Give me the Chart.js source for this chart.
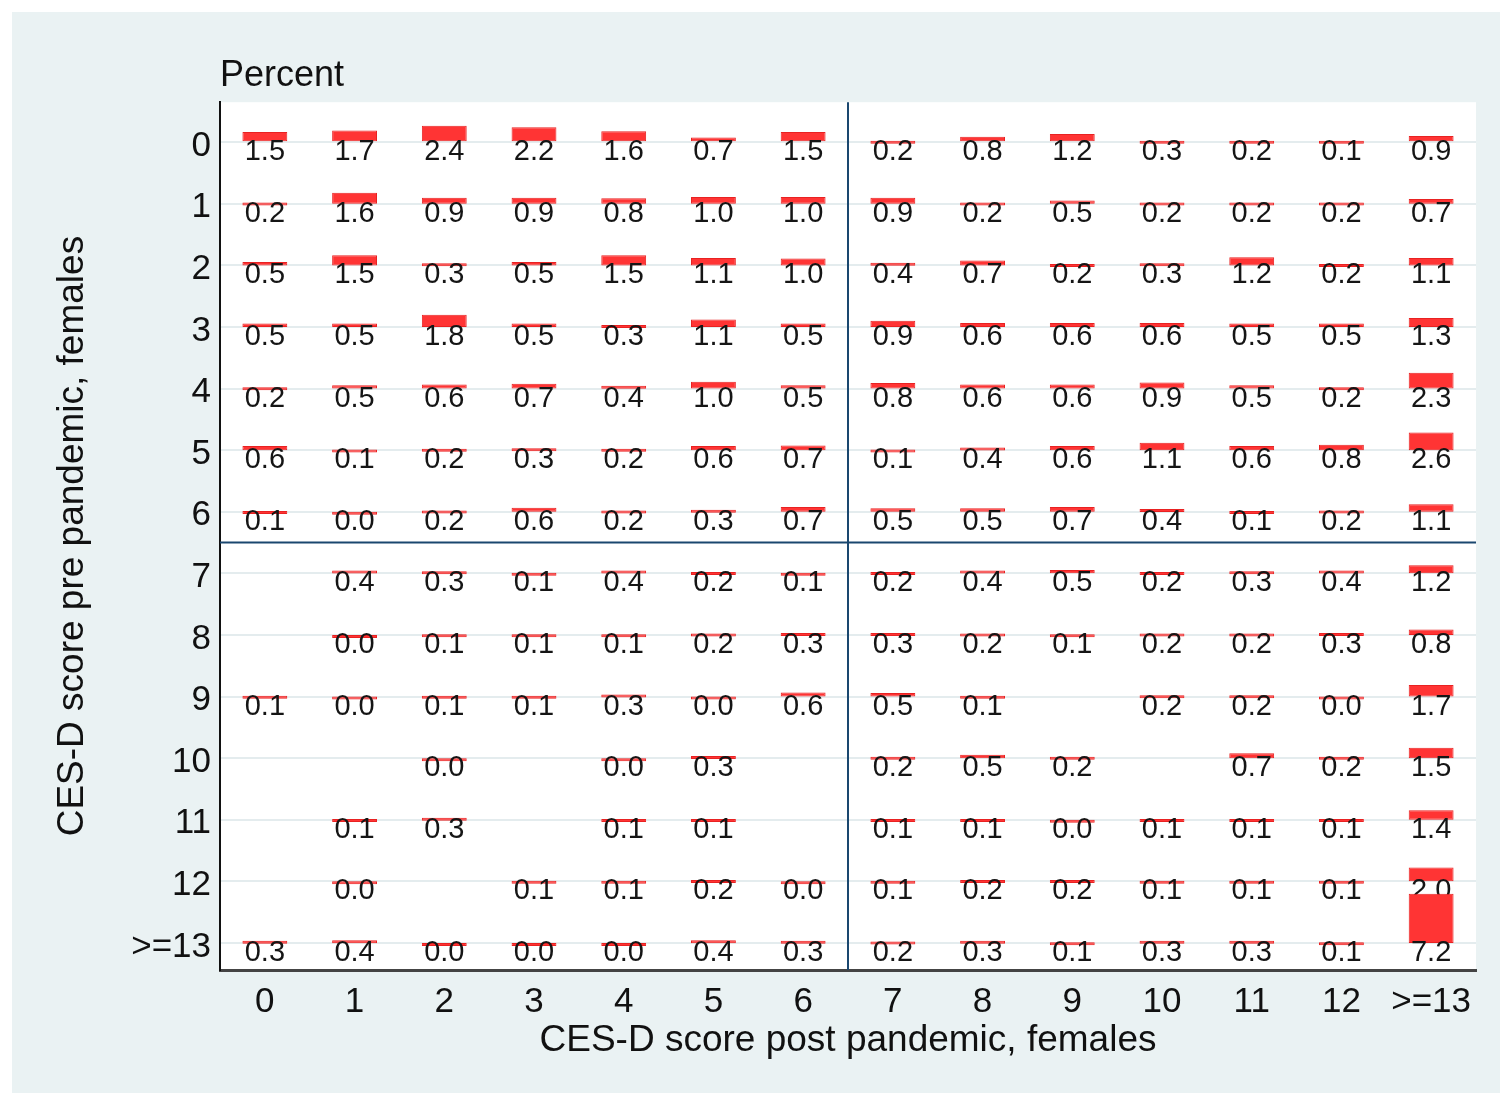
<!DOCTYPE html>
<html>
<head>
<meta charset="utf-8">
<title>CES-D score pre vs post pandemic, females</title>
<script src="https://cdn.jsdelivr.net/npm/chart.js@4.4.1/dist/chart.umd.min.js"></script>
<style>
  html, body { margin: 0; padding: 0; background: #ffffff; overflow: hidden; }
  #wrap { width: 1502px; height: 1093px; position: relative; }
</style>
</head>
<body>
<div id="wrap"><canvas id="tabChart"></canvas></div>
<script>
// columns: CES-D score post pandemic, rows: CES-D score pre pandemic
const postLabels = ["0", "1", "2", "3", "4", "5", "6", "7", "8", "9", "10", "11", "12", ">=13"];
const preLabels = ["0", "1", "2", "3", "4", "5", "6", "7", "8", "9", "10", "11", "12", ">=13"];

// percent of females in each cell (null = empty cell)
const pre0 = [1.5, 1.7, 2.4, 2.2, 1.6, 0.7, 1.5, 0.2, 0.8, 1.2, 0.3, 0.2, 0.1, 0.9];
const pre1 = [0.2, 1.6, 0.9, 0.9, 0.8, 1.0, 1.0, 0.9, 0.2, 0.5, 0.2, 0.2, 0.2, 0.7];
const pre2 = [0.5, 1.5, 0.3, 0.5, 1.5, 1.1, 1.0, 0.4, 0.7, 0.2, 0.3, 1.2, 0.2, 1.1];
const pre3 = [0.5, 0.5, 1.8, 0.5, 0.3, 1.1, 0.5, 0.9, 0.6, 0.6, 0.6, 0.5, 0.5, 1.3];
const pre4 = [0.2, 0.5, 0.6, 0.7, 0.4, 1.0, 0.5, 0.8, 0.6, 0.6, 0.9, 0.5, 0.2, 2.3];
const pre5 = [0.6, 0.1, 0.2, 0.3, 0.2, 0.6, 0.7, 0.1, 0.4, 0.6, 1.1, 0.6, 0.8, 2.6];
const pre6 = [0.1, 0.0, 0.2, 0.6, 0.2, 0.3, 0.7, 0.5, 0.5, 0.7, 0.4, 0.1, 0.2, 1.1];
const pre7 = [null, 0.4, 0.3, 0.1, 0.4, 0.2, 0.1, 0.2, 0.4, 0.5, 0.2, 0.3, 0.4, 1.2];
const pre8 = [null, 0.0, 0.1, 0.1, 0.1, 0.2, 0.3, 0.3, 0.2, 0.1, 0.2, 0.2, 0.3, 0.8];
const pre9 = [0.1, 0.0, 0.1, 0.1, 0.3, 0.0, 0.6, 0.5, 0.1, null, 0.2, 0.2, 0.0, 1.7];
const pre10 = [null, null, 0.0, null, 0.0, 0.3, null, 0.2, 0.5, 0.2, null, 0.7, 0.2, 1.5];
const pre11 = [null, 0.1, 0.3, null, 0.1, 0.1, null, 0.1, 0.1, 0.0, 0.1, 0.1, 0.1, 1.4];
const pre12 = [null, 0.0, null, 0.1, 0.1, 0.2, 0.0, 0.1, 0.2, 0.2, 0.1, 0.1, 0.1, 2.0];
const pre13 = [0.3, 0.4, 0.0, 0.0, 0.0, 0.4, 0.3, 0.2, 0.3, 0.1, 0.3, 0.3, 0.1, 7.2];

const preRows = [pre0, pre1, pre2, pre3, pre4, pre5, pre6, pre7, pre8, pre9, pre10, pre11, pre12, pre13];

const barFill = "#ff3434";
const barLine = "#e82222";
const refLine = "#1a476f";
const maxBar = 0.8; // tallest bar as a share of the row spacing
const maxValue = Math.max(...preRows.flat().filter(v => v !== null));

Chart.defaults.font.family = "'Liberation Sans', Arial, Helvetica, sans-serif";
Chart.defaults.color = "#111111";

// each row is a dataset of floating bars rising from the row line
const datasets = preRows.map((row, r) => ({
  label: "pre " + preLabels[r],
  row: r,
  cells: row,
  data: row.map(v => (v === null ? null : [r, r - (v / maxValue) * maxBar])),
  order: preRows.length - r,
  backgroundColor: barFill,
  borderColor: barLine,
  borderWidth: 1,
  borderSkipped: false,
  grouped: false,
  barPercentage: 0.5,
  categoryPercentage: 1.0,
  minBarLength: 3,
}));

const backdrop = {
  id: "backdrop",
  beforeDraw(chart) {
    const { ctx, chartArea: a } = chart;
    ctx.save();
    ctx.fillStyle = "#eaf2f3";
    ctx.fillRect(12, 12, chart.width - 14, chart.height - 12);
    ctx.fillStyle = "#ffffff";
    ctx.fillRect(a.left, a.top, a.right - a.left, a.bottom - a.top);
    ctx.restore();
  },
  beforeDatasetsDraw(chart) {
    const { ctx, chartArea: a, scales: { x, y } } = chart;
    const xm = x.getPixelForValue(6.5);
    const ym = y.getPixelForValue(6.5);
    ctx.save();
    ctx.strokeStyle = refLine;
    ctx.lineWidth = 2;
    ctx.beginPath();
    ctx.moveTo(xm, a.top);
    ctx.lineTo(xm, a.bottom);
    ctx.moveTo(a.left, ym);
    ctx.lineTo(a.right, ym);
    ctx.stroke();
    ctx.restore();
  },
};

// value under every bar, drawn row by row so later rows overlap earlier labels
const cellLabels = {
  id: "cellLabels",
  afterDatasetDraw(chart, args) {
    const ds = chart.data.datasets[args.index];
    const { ctx, scales: { x, y } } = chart;
    const base = y.getPixelForValue(ds.row);
    ctx.save();
    ctx.font = "29px 'Liberation Sans', Arial, sans-serif";
    ctx.fillStyle = "#151515";
    ctx.textAlign = "center";
    ctx.textBaseline = "middle";
    ds.cells.forEach((v, c) => {
      if (v === null) return;
      ctx.fillText(v.toFixed(1), x.getPixelForValue(c), base + 10);
    });
    ctx.restore();
  },
};

new Chart(document.getElementById("tabChart"), {
  type: "bar",
  data: {
    labels: postLabels,
    datasets: datasets,
  },
  options: {
    responsive: true,
    maintainAspectRatio: false,
    animation: false,
    layout: { padding: { top: 12, right: 26, bottom: 0, left: 0 } },
    scales: {
      x: {
        type: "category",
        offset: true,
        grid: { display: false, drawTicks: false },
        border: { display: true, color: "#444444", width: 3 },
        ticks: { font: { size: 35 }, color: "#111111", padding: 11, autoSkip: false, maxRotation: 0 },
        afterFit: s => { s.height = 123; },
        title: {
          display: true,
          text: "CES-D score post pandemic, females",
          font: { size: 37 },
          color: "#111111",
          padding: { top: 0, bottom: 30 },
        },
      },
      y: {
        type: "linear",
        reverse: true,
        min: -0.65,
        max: 13.44,
        afterBuildTicks: s => { s.ticks = preLabels.map((_, i) => ({ value: i })); },
        afterFit: s => { s.width = 220; },
        ticks: { callback: v => preLabels[v], font: { size: 35 }, color: "#111111", padding: 9, labelOffset: 4 },
        grid: { color: "#e4ecee", lineWidth: 2, drawTicks: false },
        border: { display: true, color: "#111111", width: 2 },
        title: {
          display: true,
          text: "CES-D score pre pandemic, females",
          font: { size: 37 },
          color: "#111111",
          padding: { top: 51, bottom: 0 },
        },
      },
    },
    plugins: {
      legend: { display: false },
      tooltip: { enabled: false },
      title: {
        display: true,
        text: "Percent",
        align: "start",
        fullSize: false,
        font: { size: 36, weight: "normal" },
        color: "#111111",
        padding: { top: 42, bottom: 5 },
      },
    },
  },
  plugins: [backdrop, cellLabels],
});
</script>
</body>
</html>
